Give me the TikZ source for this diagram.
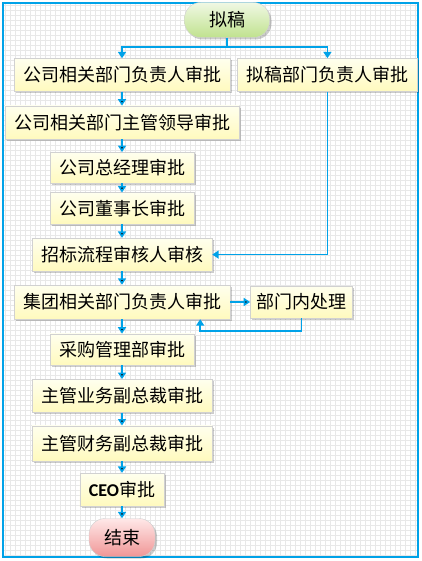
\documentclass[tikz,border=0pt]{standalone}
\usepackage{fontspec}
\setmainfont{Noto Sans CJK SC}
\newfontfamily\ceofont{Carlito}
\usepackage{xcolor}
\usepackage{tikz}
\usetikzlibrary{positioning}
\usetikzlibrary{arrows.meta,shadows}

\definecolor{flowblue}{RGB}{0,162,232}
\definecolor{boxtop}{RGB}{255,255,238}
\definecolor{boxbot}{RGB}{255,250,190}
\definecolor{starttop}{RGB}{240,248,228}
\definecolor{startbot}{RGB}{192,226,142}
\definecolor{endtop}{RGB}{255,232,232}
\definecolor{endbot}{RGB}{240,150,150}

\begin{document}
\begin{tikzpicture}[x=1pt,y=1pt]
\tikzset{box/.style={draw=black!18,top color=boxtop,bottom color=boxbot,
		inner xsep=9pt,inner ysep=0pt,minimum height=33pt,
		font=\fontsize{18}{20}\selectfont,
		drop shadow={shadow xshift=2pt,shadow yshift=-2pt,fill=black,opacity=.2}},
	term/.style={box,rounded corners=16pt,minimum width=66pt},
	flow/.style={draw=flowblue,line width=1.6pt},
	>={Triangle[width=8pt,length=6.5pt]}}

\useasboundingbox (0,0) rectangle (421,-561);
\fill[white] (0,0) rectangle (421,-561);
\draw[black!9,line width=.3pt,step=5pt] (4,-4) grid (417,-556);
\draw[flowblue,line width=2.2pt] (3,-3) rectangle (418,-557);

\node[term,top color=starttop,bottom color=startbot,minimum width=85pt,minimum height=35pt] (a0) at (227,-20) {拟稿};

\node[box] (a1) at (122,-75) {公司相关部门负责人审批};

\node[box] (b1) [right = 7pt of a1] {拟稿部门负责人审批};

\node[box] (a2) [below = 14pt of a1] {公司相关部门主管领导审批};

\node[box,minimum height=31pt] (a3) [below = 13pt of a2] {公司总经理审批};

\node[box,minimum height=31pt] (a4) [below = 9pt of a3] {公司董事长审批};

\node[box] (a5) [below = 14pt of a4] {招标流程审核人审核};

\node[box,minimum height=34pt] (a6) [below = 13.5pt of a5] {集团相关部门负责人审批};

\node[box,minimum height=32pt,inner xsep=6pt] (b2) [right = 20pt of a6] {部门内处理};

\node[box,minimum height=31pt] (a7) [below = 14.5pt of a6] {采购管理部审批};

\node[box] (a8) [below = 14pt of a7] {主管业务副总裁审批};

\node[box,minimum height=35pt] (a9) [below = 13pt of a8] {主管财务副总裁审批};

\node[box] (a10) [below = 12pt of a9] {{\ceofont\bfseries CEO}审批};

\node[term,top color=endtop,bottom color=endbot,minimum height=38pt] (a11) [below = 12pt of a10] {结束};

% fork below the draft
\draw[flow] (a0) -- ++(0,-27) coordinate (fork);
\draw[flow,->] (fork) -| (a1.north);
\draw[flow,->] (fork) -| (b1.north);

\draw[flow,->] (a1) edge (a2) ;
\draw[flow,->] (a2) edge (a3) ;
\draw[flow,->] (a3) edge (a4) ;
\draw[flow,->] (a4) edge (a5) ;
\draw[flow,->] (b1.south) |- (a5.east) ;
\draw[flow,->] (a5) edge (a6) ;
\draw[flow,->] (a6) edge (b2) ;

\coordinate (back) at ([xshift=-30pt]a6.south east);
\draw[flow,->] (b2.south) -- ++(0,-13) -| (back) ;

\draw[flow,->] (a6) edge (a7) ;
\draw[flow,->] (a7) edge (a8) ;
\draw[flow,->] (a8) edge (a9) ;
\draw[flow,->] (a9) edge (a10) ;
\draw[flow,->] (a10) edge (a11) ;
\end{tikzpicture}
\end{document}
